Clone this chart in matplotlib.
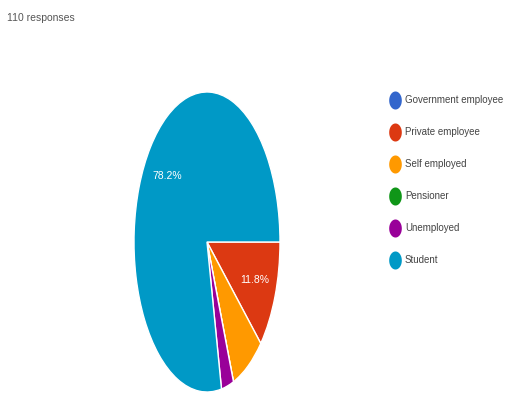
import numpy as np
import matplotlib
matplotlib.use("Agg")
import matplotlib.pyplot as plt
from matplotlib.path import Path

# survey data (110 responses)
labels = ["Government employee", "Private employee", "Self employed",
          "Pensioner", "Unemployed", "Student"]
counts = [0, 13, 8, 0, 3, 86]
colors = ["#3366cc", "#dc3912", "#ff9900", "#109618", "#990099", "#0099c6"]
title = "110 responses"

W, H = 506, 394
fig = plt.figure(figsize=(W/100., H/100.), dpi=100)
fig.patch.set_facecolor("white")
fnt = ["Liberation Sans", "DejaVu Sans"]

def px(l, t, r, b):
	# pixel box -> figure fraction
	return [l/W, 1-b/H, (r-l)/W, (b-t)/H]

# pie (stretched vertically, like the reference)
ax = fig.add_axes(px(134, 92, 280, 392))
def pct(p): return "%.1f%%" % p if p > 10 else ""
wedges, txts, auto = ax.pie(counts, colors=colors, startangle=0, counterclock=False,
	autopct=pct, pctdistance=0.7,
	wedgeprops=dict(edgecolor="white", linewidth=1))
for t in auto:
	t.set_color("white"); t.set_fontsize(7.5); t.set_family(fnt)
ax.set_aspect("auto")
ax.set_xlim(-1, 1); ax.set_ylim(-1, 1)
ax.axis("off")

fig.text(7/W, 1-18/H, title, fontsize=7.5, color="#555555", family=fnt, va="center")

# legend
lax = fig.add_axes(px(388, 84, 506, 276))
lax.set_xlim(0, 118); lax.set_ylim(len(labels)-0.5, -0.5)
lax.axis("off")
th = np.linspace(0, 2*np.pi, 40)
ell = Path(np.c_[0.7*np.cos(th), np.sin(th)])
for i, (lab, c) in enumerate(zip(labels, colors)):
	lax.plot([7], [i], marker=ell, markersize=13, color=c, mec="none")
	lax.text(17, i, lab, fontsize=7, color="#444444", family=fnt, va="center")

fig.savefig("out.png", dpi=100)
